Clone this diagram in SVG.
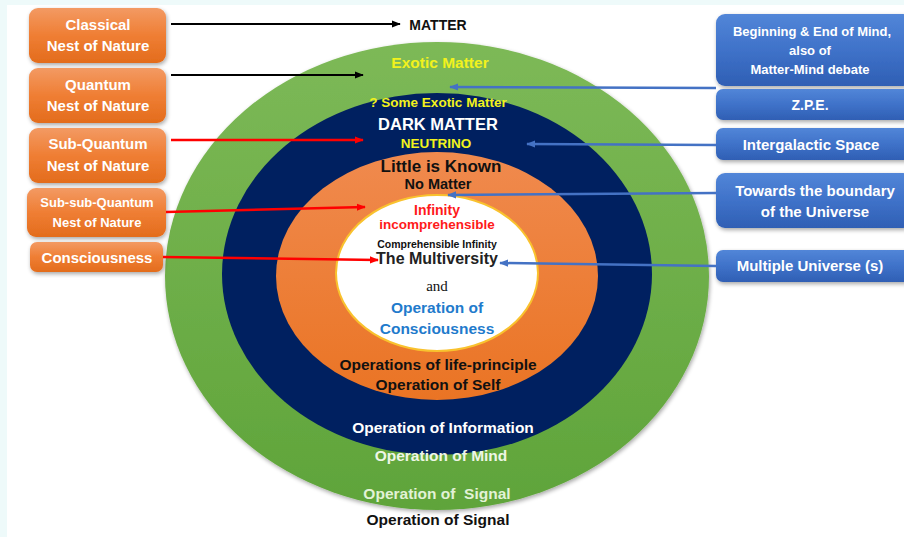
<svg xmlns="http://www.w3.org/2000/svg" width="904" height="537" viewBox="0 0 904 537">
<defs>
<linearGradient id="gGreen" x1="0" y1="0" x2="0" y2="1"><stop offset="0" stop-color="#7db957"/><stop offset="1" stop-color="#5fa43a"/></linearGradient>
<linearGradient id="gOrange" x1="0" y1="0" x2="0" y2="1"><stop offset="0" stop-color="#f08a4e"/><stop offset="1" stop-color="#ea7424"/></linearGradient>
<linearGradient id="gOBox" x1="0" y1="0" x2="0" y2="1"><stop offset="0" stop-color="#f39a63"/><stop offset="0.5" stop-color="#ef7e34"/><stop offset="1" stop-color="#e36c1c"/></linearGradient>
<linearGradient id="gBBox" x1="0" y1="0" x2="0" y2="1"><stop offset="0" stop-color="#5286d8"/><stop offset="0.5" stop-color="#3f72c9"/><stop offset="1" stop-color="#2f5fb4"/></linearGradient>
<filter id="sh" x="-10%" y="-10%" width="130%" height="130%"><feGaussianBlur in="SourceAlpha" stdDeviation="2"/><feOffset dx="1" dy="2"/><feComponentTransfer><feFuncA type="linear" slope="0.35"/></feComponentTransfer><feMerge><feMergeNode/><feMergeNode in="SourceGraphic"/></feMerge></filter>
<marker id="mK" viewBox="0 0 10 10" refX="9" refY="5" markerWidth="9" markerHeight="9" markerUnits="userSpaceOnUse" orient="auto"><path d="M0,1 L10,5 L0,9 Z" fill="#000"/></marker>
<marker id="mR" viewBox="0 0 10 10" refX="9" refY="5" markerWidth="9" markerHeight="9" markerUnits="userSpaceOnUse" orient="auto"><path d="M0,1 L10,5 L0,9 Z" fill="#ff0000"/></marker>
<marker id="mB" viewBox="0 0 10 10" refX="9" refY="5" markerWidth="9" markerHeight="9" markerUnits="userSpaceOnUse" orient="auto"><path d="M0,1 L10,5 L0,9 Z" fill="#4472c4"/></marker>
</defs>
<style>
text{font-family:"Liberation Sans","Open Sans",Arial,sans-serif;font-weight:bold;text-anchor:middle}
.bx{font-size:15px;fill:#fff}
.c15{font-size:15.5px}
.wh{fill:#fff}
.yl{fill:#f2f21c}
.bk{fill:#111}
.rd{fill:#ff1a1a}
.bl{fill:#1f7bcc}
.ak{stroke:#000;stroke-width:2;fill:none}
.ar{stroke:#ff0000;stroke-width:2.5;fill:none}
.ab{stroke:#4472c4;stroke-width:2.5;fill:none}
</style>
<rect x="0" y="0" width="904" height="537" fill="#eefafa"/>
<rect x="7" y="5" width="897" height="532" fill="#ffffff"/>

<g id="rings">
<ellipse cx="437" cy="276" rx="272" ry="234" fill="url(#gGreen)" filter="url(#sh)"/>
<ellipse cx="437" cy="274" rx="215" ry="181" fill="#002060"/>
<ellipse cx="437" cy="276" rx="161" ry="124" fill="url(#gOrange)"/>
<ellipse cx="437" cy="273" rx="101" ry="78" fill="#ffffff" stroke="#f9c22e" stroke-width="2"/>
</g>

<g id="ring-labels">
<text x="438" y="30" font-size="14" class="bk">MATTER</text>
<text x="440" y="68" class="c15 yl">Exotic Matter</text>
<text x="438" y="107" font-size="13.5" class="yl">? Some Exotic Matter</text>
<text x="438" y="130" font-size="16.5" class="wh">DARK MATTER</text>
<text x="436" y="148" font-size="13.5" class="yl">NEUTRINO</text>
<text x="441" y="172" font-size="17" class="bk">Little is Known</text>
<text x="438" y="189" font-size="14.5" class="bk">No Matter</text>
<text x="437" y="215" font-size="14" class="rd">Infinity</text>
<text x="437" y="229" font-size="13.5" class="rd">incomprehensible</text>
<text x="437" y="248" font-size="10.5" class="bk">Comprehensible Infinity</text>
<text x="437" y="264" font-size="16" fill="#222">The Multiversity</text>
<text x="437" y="291" font-size="15" fill="#111" style="font-family:'Liberation Serif','Times New Roman',serif;font-weight:normal">and</text>
<text x="437" y="313" class="c15 bl">Operation of</text>
<text x="437" y="334" class="c15 bl">Consciousness</text>
<text x="438" y="370" class="c15 bk">Operations of life-principle</text>
<text x="438" y="390" class="c15 bk">Operation of Self</text>
<text x="443" y="433" class="c15 wh">Operation of Information</text>
<text x="441" y="461" class="c15" fill="#eef6e6">Operation of Mind</text>
<text x="437" y="499" class="c15" fill="#e2f2d6" xml:space="preserve">Operation of  Signal</text>
<text x="438" y="525" class="c15 bk">Operation of Signal</text>
</g>

<g id="left-nodes">
<g id="n-classical"><rect x="29" y="8" width="137" height="55" rx="9" fill="url(#gOBox)" filter="url(#sh)"/><text x="98" y="30" class="bx">Classical</text><text x="98" y="51" class="bx">Nest of Nature</text></g>
<g id="n-quantum"><rect x="29" y="68" width="137" height="55" rx="9" fill="url(#gOBox)" filter="url(#sh)"/><text x="98" y="90" class="bx">Quantum</text><text x="98" y="111" class="bx">Nest of Nature</text></g>
<g id="n-subquantum"><rect x="29" y="128" width="137" height="55" rx="9" fill="url(#gOBox)" filter="url(#sh)"/><text x="98" y="149" class="bx">Sub-Quantum</text><text x="98" y="171" class="bx">Nest of Nature</text></g>
<g id="n-subsub"><rect x="27" y="188" width="139" height="49" rx="9" fill="url(#gOBox)" filter="url(#sh)"/><text x="97" y="207" font-size="13" class="wh">Sub-sub-Quantum</text><text x="97" y="227" font-size="13" class="wh">Nest of Nature</text></g>
<g id="n-consciousness"><rect x="30" y="242" width="133" height="30" rx="7" fill="url(#gOBox)" filter="url(#sh)"/><text x="97" y="263" class="bx">Consciousness</text></g>
</g>

<g id="right-nodes">
<g id="n-beginning"><rect x="716" y="14" width="196" height="72" rx="9" fill="url(#gBBox)" filter="url(#sh)"/><text x="812" y="36" font-size="13" class="wh">Beginning &amp; End of Mind,</text><text x="810" y="55" font-size="13" class="wh">also of</text><text x="810" y="74" font-size="13" class="wh">Matter-Mind debate</text></g>
<g id="n-zpe"><rect x="716" y="89" width="196" height="31" rx="7" fill="url(#gBBox)" filter="url(#sh)"/><text x="810" y="110" font-size="14" class="wh">Z.P.E.</text></g>
<g id="n-intergalactic"><rect x="716" y="128" width="196" height="32" rx="7" fill="url(#gBBox)" filter="url(#sh)"/><text x="811" y="150" class="bx">Intergalactic Space</text></g>
<g id="n-boundary"><rect x="716" y="173" width="196" height="55" rx="9" fill="url(#gBBox)" filter="url(#sh)"/><text x="815" y="196" class="bx">Towards the boundary</text><text x="815" y="217" class="bx">of the Universe</text></g>
<g id="n-multiple"><rect x="716" y="250" width="196" height="32" rx="7" fill="url(#gBBox)" filter="url(#sh)"/><text x="810" y="271" class="bx">Multiple Universe (s)</text></g>
</g>

<g id="connectors">
<line x1="171" y1="24" x2="400" y2="24" class="ak" marker-end="url(#mK)"/>
<line x1="171" y1="75" x2="363" y2="75" class="ak" marker-end="url(#mK)"/>
<line x1="171" y1="140" x2="363" y2="140" class="ar" marker-end="url(#mR)"/>
<line x1="166" y1="212" x2="365" y2="207" class="ar" marker-end="url(#mR)"/>
<line x1="163" y1="257" x2="378" y2="260" class="ar" marker-end="url(#mR)"/>
<line x1="716" y1="88" x2="450" y2="87" class="ab" marker-end="url(#mB)"/>
<line x1="716" y1="145" x2="527" y2="144" class="ab" marker-end="url(#mB)"/>
<line x1="716" y1="193" x2="448" y2="195" class="ab" marker-end="url(#mB)"/>
<line x1="716" y1="266" x2="500" y2="263" class="ab" marker-end="url(#mB)"/>
</g>
</svg>
